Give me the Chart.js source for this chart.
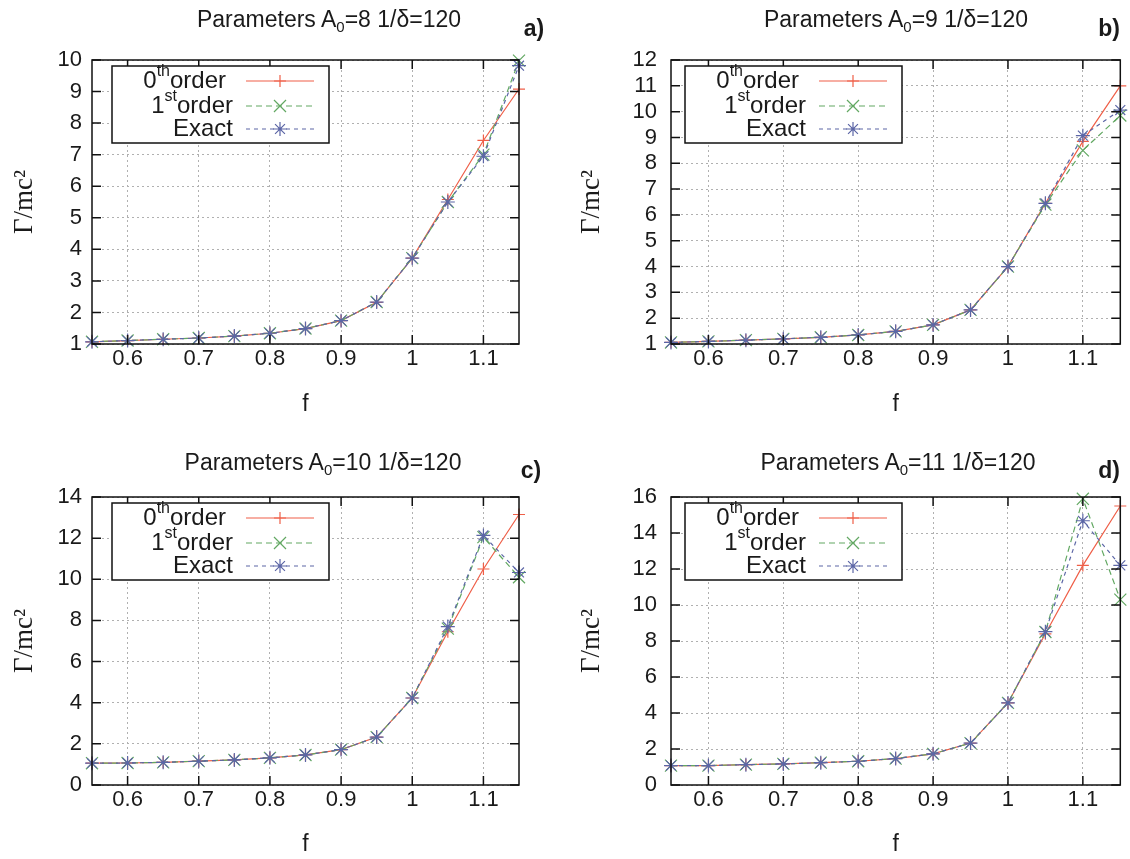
<!DOCTYPE html>
<html>
<head>
<meta charset="utf-8">
<script src="https://cdn.jsdelivr.net/npm/chart.js@4.4.1/dist/chart.umd.min.js"></script>
<style>
  html, body { margin: 0; padding: 0; background: #fff; overflow: hidden; }
  body { width: 1130px; height: 859px; position: relative; font-family: 'Liberation Sans', Arial, sans-serif; color: #1a1a1a; }
  canvas { position: absolute; }
  .titre { position: absolute; font-size: 23px; white-space: nowrap; transform: translate(-50%, -50%); }
  .titre sub { font-size: 15px; vertical-align: -5px; line-height: 0; }
  .lettre { position: absolute; font-size: 23px; font-weight: bold; transform: translate(-50%, -50%); }
</style>
</head>
<body>
<canvas id="panA" width="565" height="430" style="left:0;top:0"></canvas>
<canvas id="panB" width="565" height="430" style="left:565px;top:0"></canvas>
<canvas id="panC" width="565" height="440" style="left:0;top:430px"></canvas>
<canvas id="panD" width="565" height="440" style="left:565px;top:430px"></canvas>

<div class="titre" style="left:329px;top:19px">Parameters A<sub>0</sub>=8 1/δ=120</div>
<div class="titre" style="left:896px;top:19px">Parameters A<sub>0</sub>=9 1/δ=120</div>
<div class="titre" style="left:323px;top:462px">Parameters A<sub>0</sub>=10 1/δ=120</div>
<div class="titre" style="left:898px;top:462px">Parameters A<sub>0</sub>=11 1/δ=120</div>
<div class="lettre" style="left:534px;top:28px">a)</div>
<div class="lettre" style="left:1109px;top:28px">b)</div>
<div class="lettre" style="left:531px;top:470px">c)</div>
<div class="lettre" style="left:1109px;top:470px">d)</div>

<script>
// valeurs de f (axe x)
const fVals = [0.55, 0.6, 0.65, 0.7, 0.75, 0.8, 0.85, 0.9, 0.95, 1.0, 1.05, 1.1, 1.15];
const xTicks = [0.6, 0.7, 0.8, 0.9, 1, 1.1];
const xTickLabels = ['0.6', '0.7', '0.8', '0.9', '1', '1.1'];

// a) A0=8
const ordre0A = [1.07, 1.11, 1.15, 1.19, 1.25, 1.34, 1.49, 1.74, 2.32, 3.72, 5.58, 7.45, 9.08];
const ordre1A = [1.07, 1.11, 1.15, 1.19, 1.25, 1.34, 1.49, 1.74, 2.33, 3.72, 5.50, 7.00, 9.98];
const exactA  = [1.07, 1.11, 1.15, 1.19, 1.25, 1.34, 1.49, 1.74, 2.33, 3.72, 5.50, 6.95, 9.82];
const yTicksA = [1, 2, 3, 4, 5, 6, 7, 8, 9, 10];

// b) A0=9
const ordre0B = [1.06, 1.10, 1.15, 1.20, 1.26, 1.35, 1.49, 1.74, 2.32, 4.00, 6.45, 8.85, 11.0];
const ordre1B = [1.06, 1.10, 1.15, 1.20, 1.26, 1.35, 1.49, 1.74, 2.32, 4.00, 6.40, 8.50, 9.85];
const exactB  = [1.06, 1.10, 1.15, 1.20, 1.26, 1.35, 1.49, 1.74, 2.32, 4.00, 6.45, 9.07, 10.06];
const yTicksB = [1, 2, 3, 4, 5, 6, 7, 8, 9, 10, 11, 12];

// c) A0=10
const ordre0C = [1.06, 1.07, 1.10, 1.16, 1.22, 1.32, 1.46, 1.72, 2.33, 4.23, 7.45, 10.5, 13.15];
const ordre1C = [1.06, 1.07, 1.10, 1.16, 1.22, 1.32, 1.46, 1.72, 2.33, 4.23, 7.60, 12.05, 10.1];
const exactC  = [1.06, 1.07, 1.10, 1.16, 1.22, 1.32, 1.46, 1.72, 2.33, 4.23, 7.70, 12.13, 10.33];
const yTicksC = [0, 2, 4, 6, 8, 10, 12, 14];

// d) A0=11
const ordre0D = [1.08, 1.08, 1.13, 1.17, 1.24, 1.32, 1.47, 1.73, 2.33, 4.56, 8.40, 12.2, 15.5];
const ordre1D = [1.08, 1.08, 1.13, 1.17, 1.24, 1.32, 1.47, 1.73, 2.33, 4.56, 8.50, 15.9, 10.3];
const exactD  = [1.08, 1.08, 1.13, 1.17, 1.24, 1.32, 1.47, 1.73, 2.33, 4.56, 8.52, 14.68, 12.2];
const yTicksD = [0, 2, 4, 6, 8, 10, 12, 14, 16];

// légende : chiffre, exposant, mot
const legendChiffres = ['0', '1', ''];
const legendExposants = ['th', 'st', ''];
const legendMots = ['order', 'order', 'Exact'];

const rouge = '#ef5f48';
const vert = '#62a862';
const bleu = '#5c66a6';
const texte = '#1a1a1a';

Chart.defaults.font.family = "'Liberation Sans', Arial, sans-serif";

// cadre noir + graduations vers l'intérieur + légende
const cadre = {
    id: 'cadre',
    afterDraw(chart, args, opts) {
        const { ctx, chartArea: a, scales: { x, y } } = chart;
        ctx.save();
        ctx.strokeStyle = '#111';
        ctx.lineWidth = 1.5;
        ctx.beginPath();
        x.ticks.forEach(t => {
            const px = x.getPixelForValue(t.value);
            ctx.moveTo(px, a.bottom); ctx.lineTo(px, a.bottom - 9);
            ctx.moveTo(px, a.top); ctx.lineTo(px, a.top + 9);
        });
        y.ticks.forEach(t => {
            const py = y.getPixelForValue(t.value);
            ctx.moveTo(a.left, py); ctx.lineTo(a.left + 9, py);
            ctx.moveTo(a.right, py); ctx.lineTo(a.right - 9, py);
        });
        ctx.stroke();
        ctx.strokeRect(a.left, a.top, a.width, a.height);

        // légende
        const bx = a.left + opts.lx, by = a.top + opts.ly, bw = 217, bh = 77;
        ctx.fillStyle = '#fff';
        ctx.fillRect(bx, by, bw, bh);
        ctx.strokeRect(bx, by, bw, bh);
        const rows = [15, 40, 63];
        chart.data.datasets.forEach((ds, i) => {
            const yy = by + rows[i];
            const xr = bx + (i === 0 ? 114 : 121);
            ctx.fillStyle = texte;
            ctx.textBaseline = 'middle';
            ctx.textAlign = 'right';
            ctx.font = "24px 'Liberation Sans'";
            ctx.fillText(legendMots[i], xr, yy);
            let w = ctx.measureText(legendMots[i]).width;
            if (legendExposants[i]) {
                ctx.font = "16px 'Liberation Sans'";
                ctx.fillText(legendExposants[i], xr - w, yy - 9);
                w += ctx.measureText(legendExposants[i]).width;
                ctx.font = "24px 'Liberation Sans'";
                ctx.fillText(legendChiffres[i], xr - w, yy);
            }
            ctx.strokeStyle = ds.borderColor;
            ctx.lineWidth = 1.2;
            ctx.setLineDash(ds.borderDash || []);
            ctx.beginPath();
            ctx.moveTo(bx + 134, yy); ctx.lineTo(bx + 202, yy);
            ctx.stroke();
            ctx.setLineDash([]);
            ctx.fillStyle = ds.borderColor;
            Chart.helpers.drawPoint(ctx, { pointStyle: ds.pointStyle, radius: ds.pointRadius, borderWidth: 1.2 }, bx + 168, yy);
        });
        ctx.restore();
    }
};

function points(vals) {
    return fVals.map((f, i) => ({ x: f, y: vals[i] }));
}

function dessiner(id, o0, o1, ex, yTicks, p) {
    new Chart(document.getElementById(id), {
        type: 'line',
        data: {
            datasets: [
                { label: '0th order', data: points(o0), borderColor: rouge, backgroundColor: rouge, borderWidth: 1.2,
                  pointStyle: 'cross', pointRadius: 6, pointBorderWidth: 1.2, order: 3 },
                { label: '1st order', data: points(o1), borderColor: vert, backgroundColor: vert, borderWidth: 1.2, borderDash: [6, 4],
                  pointStyle: 'crossRot', pointRadius: 8.5, pointBorderWidth: 1.2, order: 2 },
                { label: 'Exact', data: points(ex), borderColor: bleu, backgroundColor: bleu, borderWidth: 1.2, borderDash: [4, 4],
                  pointStyle: 'star', pointRadius: 7, pointBorderWidth: 1.2, order: 1 }
            ]
        },
        options: {
            responsive: false,
            animation: false,
            clip: 10,
            layout: { padding: { top: p.top, right: p.right, bottom: 0, left: 0 } },
            plugins: {
                legend: { display: false },
                tooltip: { enabled: false },
                cadre: { lx: p.lx, ly: 6 }
            },
            scales: {
                x: {
                    type: 'linear', min: 0.55, max: 1.15,
                    afterBuildTicks: s => { s.ticks = xTicks.map(v => ({ value: v })); },
                    afterFit: s => { s.height = p.xh; },
                    grid: { color: '#b0b0b0', lineWidth: 1, drawTicks: false },
                    border: { display: false, dash: [2, 3] },
                    ticks: { padding: 2, autoSkip: false, maxRotation: 0, color: texte, font: { size: 22 }, callback: (v, i) => xTickLabels[i] },
                    title: { display: true, text: 'f', color: texte, font: { size: 23, lineHeight: 1 }, padding: { top: 0, bottom: 13.5 } }
                },
                y: {
                    type: 'linear', min: yTicks[0], max: yTicks[yTicks.length - 1],
                    afterBuildTicks: s => { s.ticks = yTicks.map(v => ({ value: v })); },
                    afterFit: s => { s.width = p.yw; },
                    grid: { color: '#b0b0b0', lineWidth: 1, drawTicks: false },
                    border: { display: false, dash: [2, 3] },
                    ticks: { padding: p.tp, autoSkip: false, color: texte, font: { size: 22 }, callback: v => String(v) },
                    title: { display: true, text: 'Γ/mc²', color: texte, font: { family: "'Liberation Serif', serif", size: 27, lineHeight: 1 }, padding: { top: p.yPad, bottom: 0 } }
                }
            }
        },
        plugins: [cadre]
    });
}

dessiner('panA', ordre0A, ordre1A, exactA, yTicksA, { top: 60, right: 46, xh: 86, yw: 92, yPad: 11.5, tp: 10, lx: 20 });
dessiner('panB', ordre0B, ordre1B, exactB, yTicksB, { top: 60, right: 3, xh: 86, yw: 106, yPad: 13.5, tp: 14, lx: 14 });
dessiner('panC', ordre0C, ordre1C, exactC, yTicksC, { top: 67, right: 46, xh: 85, yw: 92, yPad: 11.5, tp: 10, lx: 20 });
dessiner('panD', ordre0D, ordre1D, exactD, yTicksD, { top: 67, right: 3, xh: 85, yw: 106, yPad: 13.5, tp: 14, lx: 14 });
</script>
</body>
</html>
